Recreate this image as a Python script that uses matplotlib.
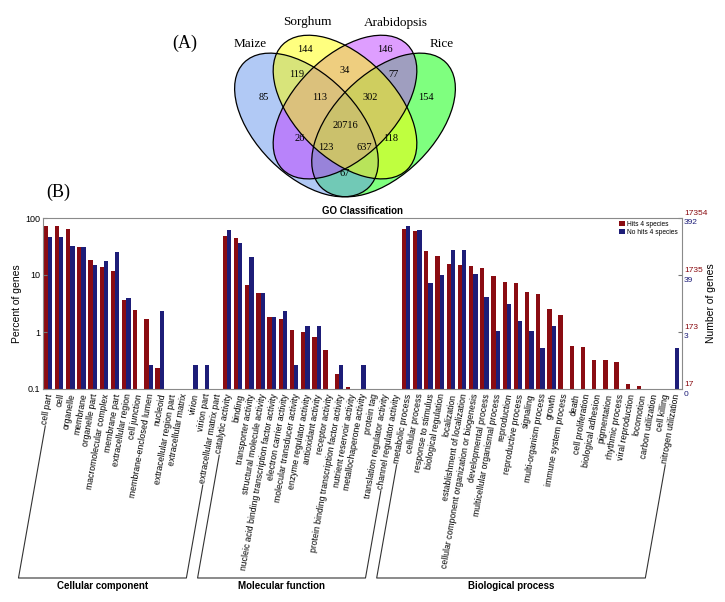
import numpy as np
import matplotlib.pyplot as plt
import matplotlib.transforms as mtransforms
from matplotlib.patches import Ellipse
from matplotlib.lines import Line2D

plt.rcParams['font.family'] = ['Liberation Sans', 'DejaVu Sans']

# ---- (A) Venn data
venn_sets = ['Maize', 'Sorghum', 'Arabidopsis', 'Rice']
venn_counts = [85, 144, 146, 154, 119, 34, 77, 113, 302, 20716, 26, 118, 123, 637, 67]

# ---- (B) GO classification data (percent of genes)
cc_terms = ['cell part', 'cell', 'organelle', 'membrane', 'organelle part',
            'macromolecular complex', 'membrane part', 'extracellular region',
            'cell junction', 'membrane-enclosed lumen', 'nucleoid',
            'extracellular region part', 'extracellular matrix', 'virion',
            'virion part', 'extracellular matrix part']
cc_hits = [72, 72, 63, 31, 18.6, 13.8, 11.7, 3.7, 2.45, 1.66, 0.234, 0, 0, 0, 0, 0]
cc_nohits = [46, 46, 32, 31, 15.2, 17.8, 25, 3.9, 0, 0.26, 2.35, 0, 0, 0.26, 0.26, 0]

mf_terms = ['catalytic activity', 'binding', 'transporter activity',
            'structural molecule activity',
            'nucleic acid binding transcription factor activity',
            'electron carrier activity', 'molecular transducer activity',
            'enzyme regulator activity', 'antioxidant activity', 'receptor activity',
            'protein binding transcription factor activity',
            'nutrient reservoir activity', 'metallochaperone activity', 'protein tag',
            'translation regulator activity', 'channel regulator activity']
mf_hits = [48, 45, 6.7, 4.8, 1.86, 1.66, 1.1, 1.0, 0.82, 0.48, 0.18, 0.107, 0, 0, 0, 0]
mf_nohits = [61, 37, 20.7, 4.8, 1.82, 2.3, 0.26, 1.29, 1.29, 0, 0.26, 0, 0.26, 0, 0, 0]

bp_terms = ['metabolic process', 'cellular process', 'response to stimulus',
            'biological regulation', 'localization', 'establishment of localization',
            'cellular component organization or biogenesis', 'developmental process',
            'multicellular organismal process', 'reproduction', 'reproductive process',
            'signaling', 'multi-organism process', 'growth', 'immune system process',
            'death', 'cell proliferation', 'biological adhesion', 'pigmentation',
            'rhythmic process', 'viral reproduction', 'locomotion', 'carbon utilization',
            'cell killing', 'nitrogen utilization']
bp_hits = [64, 60, 26, 21.5, 15.8, 15, 14.4, 13.4, 9.6, 7.4, 7.3, 5.1, 4.7, 2.57, 1.95,
           0.575, 0.55, 0.32, 0.32, 0.30, 0.124, 0.113, 0, 0, 0]
bp_nohits = [73, 62, 7.2, 10, 28, 28, 10.4, 4.1, 1.03, 3.1, 1.56, 1.03, 0.52, 1.29, 0,
             0, 0, 0, 0, 0, 0, 0, 0, 0, 0.52]

group_names = ['Cellular component', 'Molecular function', 'Biological process']
group_terms = [cc_terms, mf_terms, bp_terms]

pct_ticks = [100, 10, 1, 0.1]
pct_labels = ['100', '10', '1', '0.1']
hits_counts = ['17354', '1735', '173', '17']
nohits_counts = ['392', '39', '3', '0']

terms = cc_terms + mf_terms + bp_terms
hits = np.array(cc_hits + mf_hits + bp_hits, dtype=float)
nohits = np.array(cc_nohits + mf_nohits + bp_nohits, dtype=float)
hits[hits <= 0] = np.nan
nohits[nohits <= 0] = np.nan

red = '#8a0c12'
blue = '#1d1d78'

fig = plt.figure(figsize=(7.25, 6.02), dpi=100)
W, H = 725.0, 602.0

# ---------------- Venn ----------------
s = 252.0
axv = fig.add_axes([(345 - 0.5 * s) / W, 358.6 / H, s / W, s / H])
axv.set_xlim(0, 1)
axv.set_ylim(0, 1)
axv.axis('off')

# drawing order: Rice, Maize, Arabidopsis, Sorghum
ell_centers = [(0.653, 0.47), (0.347, 0.47), (0.5, 0.541), (0.5, 0.541)]
ell_angles = [45, -45, 45, -45]
ell_colors = ['#00ff00', 'cornflowerblue', '#bf3eff', 'yellow']
for c, a, col in zip(ell_centers, ell_angles, ell_colors):
    axv.add_patch(Ellipse(c, 0.7, 0.4, angle=a, facecolor=col, alpha=0.5,
                          edgecolor='none'))
for c, a in zip(ell_centers, ell_angles):
    axv.add_patch(Ellipse(c, 0.7, 0.4, angle=a, facecolor='none',
                          edgecolor='black', lw=0.9))

region_pos = [(0.178, 0.577), (0.342, 0.771), (0.658, 0.771), (0.822, 0.577),
              (0.308, 0.672), (0.5, 0.688), (0.692, 0.672), (0.401, 0.577),
              (0.599, 0.577), (0.5, 0.466), (0.32, 0.418), (0.68, 0.418),
              (0.425, 0.379), (0.575, 0.379), (0.5, 0.279)]
for n, (u, v) in zip(venn_counts, region_pos):
    axv.text(u, v, str(n), ha='center', va='center', fontsize=7.5,
             family='Liberation Serif')

set_pos = [(0.123, 0.791), (0.349, 0.879), (0.70, 0.875), (0.883, 0.791)]
for name, (u, v) in zip(venn_sets, set_pos):
    axv.text(u, v, name, ha='center', va='center', fontsize=9.5,
             family='Liberation Serif')

fig.text(185 / W, 1 - 43 / H, '(A)', ha='center', va='center', fontsize=13,
         family='Liberation Serif')
fig.text(58 / W, 1 - 192 / H, '(B)', ha='center', va='center', fontsize=13,
         family='Liberation Serif')

# ---------------- Bars ----------------
ax = fig.add_axes([43 / W, 1 - 389 / H, 639 / W, 171 / H])
x = np.arange(len(terms))
bw = 0.385
ax.bar(x - bw / 2, hits, bw, color=red, label='Hits 4 species')
ax.bar(x + bw / 2, nohits, bw, color=blue, label='No hits 4 species')
ax.set_yscale('log')
ax.set_ylim(0.1, 100)
ax.set_xlim(-0.435, len(terms) - 1 + 0.65)
ax.set_yticks(pct_ticks)
ax.set_yticklabels(pct_labels, fontsize=6.5)
ax.yaxis.set_minor_locator(plt.NullLocator())
ax.tick_params(axis='y', direction='in', length=3, right=True, color='#777777', pad=2)

xfs = 6.2
ax.set_xticks(x)
ax.set_xticklabels(terms, rotation=80, ha='right', va='center',
                   rotation_mode='anchor', fontsize=xfs)
ax.tick_params(axis='x', which='major', length=0, pad=3.5)
shift = mtransforms.ScaledTranslation(2.5 / 100, 0, fig.dpi_scale_trans)
for lab in ax.get_xticklabels():
    lab.set_transform(lab.get_transform() + shift)
ax.set_xticks(x, minor=True)
ax.tick_params(axis='x', which='minor', bottom=False, top=True, direction='in',
               length=2, color='#777777')
for sp in ax.spines.values():
    sp.set_color('#8a8a8a')
    sp.set_linewidth(0.8)

ax.set_title('GO Classification', fontsize=7, fontweight='bold', pad=3)
ax.set_ylabel('Percent of genes', fontsize=7.5)
ax.yaxis.set_label_coords(-0.033, 0.5)
ax.text(1.045, 0.5, 'Number of genes', transform=ax.transAxes, rotation=90,
        ha='center', va='center', fontsize=7.5)

for v, hl, nl in zip(pct_ticks, hits_counts, nohits_counts):
    ax.annotate(hl, xy=(1, v), xycoords=('axes fraction', 'data'),
                xytext=(1.5, 3.3), textcoords='offset points', ha='left',
                va='center', fontsize=6, color=red)
    ax.annotate(nl, xy=(1, v), xycoords=('axes fraction', 'data'),
                xytext=(1.5, -3.6), textcoords='offset points', ha='left',
                va='center', fontsize=6, color=blue)

ax.legend(loc='upper right', bbox_to_anchor=(0.994, 0.985), frameon=False,
          fontsize=4.8, handlelength=0.8, handleheight=0.8, handletextpad=0.4,
          borderpad=0, labelspacing=0.15, borderaxespad=0)

# ---------------- Group brackets ----------------
fig.canvas.draw()
rend = fig.canvas.get_renderer()
labs = ax.get_xticklabels()
theta = np.deg2rad(80)
hpx = xfs * 100 / 72 * 1.1
y_base = H - 578
to_fig = fig.transFigure.inverted()


def label_start(lab):
    bb = lab.get_window_extent(rend)
    xs = bb.x0 + 0.5 * hpx * np.sin(theta)
    ys = bb.y0 + 0.5 * hpx * np.cos(theta) - 2
    xb = xs - (ys - y_base) / np.tan(theta)
    return (xs, ys), (xb, y_base)


start = 0
for name, grp in zip(group_names, group_terms):
    end = start + len(grp) - 1
    (x1, y1), (xb1, _) = label_start(labs[start])
    (x2, y2), (xb2, _) = label_start(labs[end])
    pts = np.array([[x1, y1], [xb1, y_base], [xb2, y_base], [x2, y2]])
    pf = to_fig.transform(pts)
    fig.add_artist(Line2D(pf[:, 0], pf[:, 1], transform=fig.transFigure,
                          color='#333333', lw=0.8))
    cx = to_fig.transform([((xb1 + xb2) / 2, y_base - 8)])[0]
    fig.text(cx[0], cx[1], name, ha='center', va='center', fontsize=7,
             fontweight='bold')
    start = end + 1

fig.savefig('out.png', dpi=100)
